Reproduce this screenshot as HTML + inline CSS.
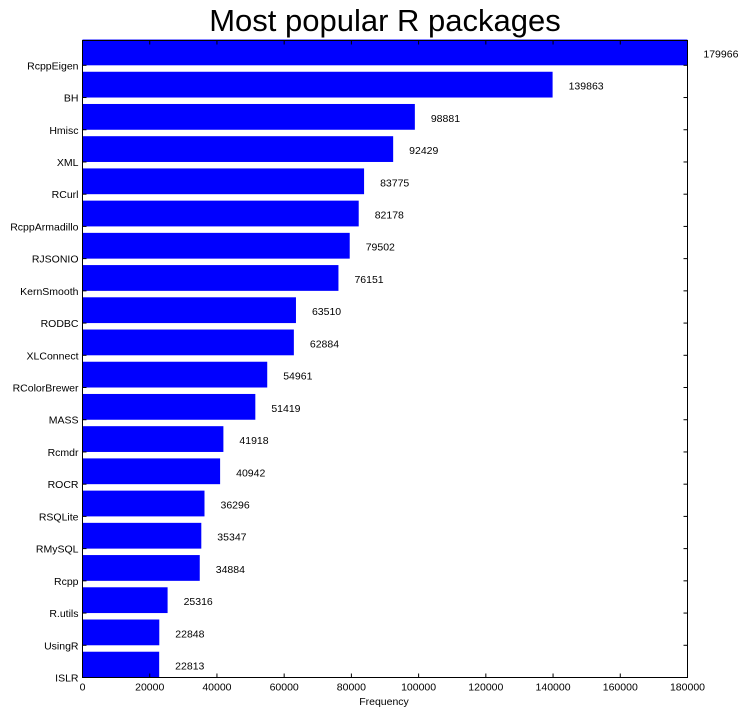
<!DOCTYPE html>
<html><head><meta charset="utf-8"><style>body{margin:0;background:#fff}svg{font-family:"Liberation Sans","DejaVu Sans",sans-serif}</style></head>
<body>
<svg id="c" width="747" height="714">
<rect width="747" height="714" fill="#fff"/>
<text x="385" y="31" font-size="31" text-anchor="middle">Most popular R packages</text>
<g id="bars"></g>
<rect x="82.5" y="40.5" width="605" height="637" fill="none" stroke="#000"/>
<text x="384" y="705" font-size="10.5" text-anchor="middle">Frequency</text>
</svg>
<script>
const categories=["RcppEigen","BH","Hmisc","XML","RCurl","RcppArmadillo","RJSONIO","KernSmooth","RODBC","XLConnect","RColorBrewer","MASS","Rcmdr","ROCR","RSQLite","RMySQL","Rcpp","R.utils","UsingR","ISLR"];
const values=[179966,139863,98881,92429,83775,82178,79502,76151,63510,62884,54961,51419,41918,40942,36296,35347,34884,25316,22848,22813];
const xTicks=[0,20000,40000,60000,80000,100000,120000,140000,160000,180000];
const L=82.5,R=687.5,T=40.5,B=677.5,XMAX=180000,YMAX=19.77;
const x=v=>L+v/XMAX*(R-L);
const y=u=>B-u/YMAX*(B-T);
const NS="http://www.w3.org/2000/svg";
const g=document.getElementById('bars');
function mk(t,a,txt){const e=document.createElementNS(NS,t);for(const k in a)e.setAttribute(k,a[k]);if(txt!==undefined)e.textContent=txt;g.appendChild(e);return e;}
const n=categories.length;
categories.forEach((c,i)=>{
  const u=n-1-i;
  const r=mk('rect',{x:L,y:y(u+0.8),width:x(values[i])-L,height:y(u)-y(u+0.8),fill:'#0000ff'});
  
  
  const vl=mk('text',{x:x(values[i])+16,y:y(u+0.4)+5,'font-size':10.5},String(values[i]));
  
  
  const tl=mk('text',{x:L-4,y:y(u)+4,'font-size':10.5,'text-anchor':'end'},c);
  
  
  mk('line',{x1:L,x2:L+4,y1:y(u),y2:y(u),stroke:'#000'});
  mk('line',{x1:R,x2:R-4,y1:y(u),y2:y(u),stroke:'#000'});
});
xTicks.forEach(v=>{
  const t=mk('text',{x:x(v),y:B+13,'font-size':10.5,'text-anchor':'middle'},String(v));
  
  
  mk('line',{x1:x(v),x2:x(v),y1:B,y2:B-4,stroke:'#000'});
  mk('line',{x1:x(v),x2:x(v),y1:T,y2:T+4,stroke:'#000'});
});
</script>
</body></html>
